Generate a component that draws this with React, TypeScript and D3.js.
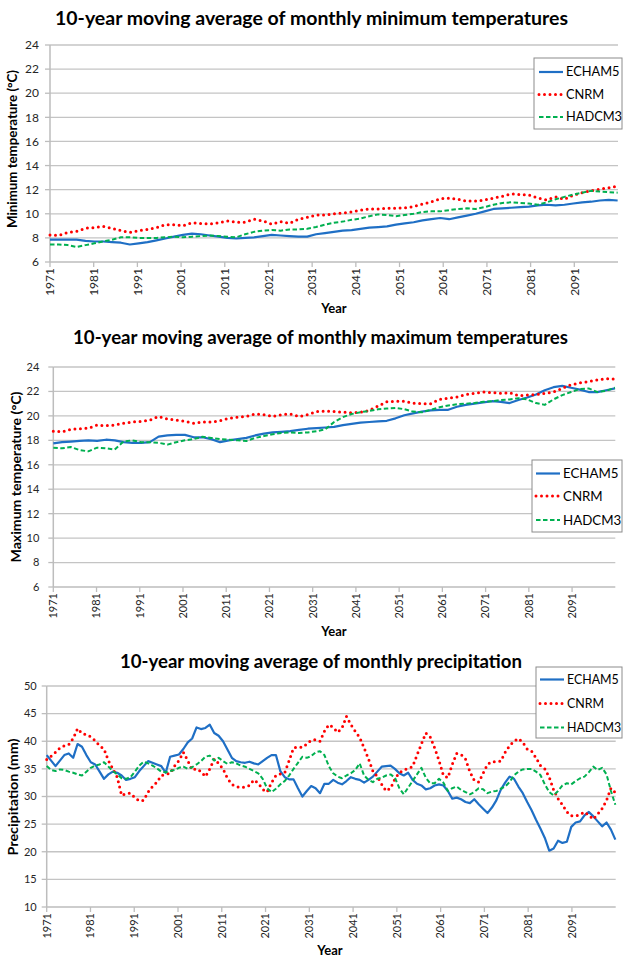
import React from 'react';
import * as d3 from 'd3';

// ---- data ----
const models = ['ECHAM5', 'CNRM', 'HADCM3'];
const decadeLabels = ['1971', '1981', '1991', '2001', '2011', '2021', '2031', '2041', '2051', '2061', '2071', '2081', '2091'];
const tempTicks = [6, 8, 10, 12, 14, 16, 18, 20, 22, 24];
const precipTicks = [10, 15, 20, 25, 30, 35, 40, 45, 50];

// minimum temperature, one value every 2 years 1971..2099
const minECHAM5 = [
  7.85, 7.85, 7.85, 7.85, 7.75, 7.7, 7.7, 7.65, 7.6, 7.45,
  7.55, 7.65, 7.8, 7.95, 8.1, 8.25, 8.35, 8.3, 8.2, 8.1,
  8.0, 7.95, 8.0, 8.05, 8.15, 8.25, 8.2, 8.15, 8.1, 8.1,
  8.3, 8.4, 8.5, 8.6, 8.65, 8.75, 8.85, 8.9, 8.95, 9.1,
  9.2, 9.3, 9.45, 9.55, 9.65, 9.55, 9.7, 9.85, 10.0, 10.2,
  10.4, 10.45, 10.5, 10.55, 10.6, 10.7, 10.75, 10.7, 10.75, 10.85,
  10.95, 11.0, 11.1, 11.15, 11.1,
];
const minCNRM = [
  8.25, 8.2, 8.45, 8.55, 8.8, 8.85, 8.95, 8.8, 8.6, 8.45,
  8.6, 8.7, 8.85, 9.1, 9.1, 9.0, 9.25, 9.2, 9.15, 9.25,
  9.4, 9.3, 9.3, 9.55, 9.4, 9.15, 9.35, 9.2, 9.55, 9.7,
  9.9, 9.9, 10.0, 10.05, 10.15, 10.3, 10.4, 10.4, 10.45, 10.45,
  10.5, 10.6, 10.8, 11.0, 11.25, 11.3, 11.2, 11.05, 11.05, 11.15,
  11.3, 11.45, 11.65, 11.6, 11.55, 11.3, 11.15, 11.4, 11.2, 11.55,
  11.75, 11.9, 12.05, 12.15, 12.3,
];
const minHADCM3 = [
  7.45, 7.45, 7.4, 7.25, 7.4, 7.55, 7.7, 7.85, 8.05, 8.05,
  8.0, 8.0, 8.0, 8.05, 8.1, 8.05, 8.1, 8.15, 8.2, 8.15,
  8.1, 8.05, 8.3, 8.5, 8.6, 8.65, 8.6, 8.7, 8.7, 8.75,
  8.9, 9.1, 9.25, 9.35, 9.5, 9.6, 9.8, 9.95, 9.9, 9.8,
  9.9, 10.0, 10.15, 10.2, 10.2, 10.3, 10.4, 10.45, 10.4, 10.55,
  10.75, 10.9, 10.95, 10.9, 10.85, 10.75, 10.95, 11.2, 11.4, 11.6,
  11.75, 11.9, 11.85, 11.8, 11.75,
];

// maximum temperature, one value every 2 years 1971..2099
const maxECHAM5 = [
  17.75, 17.85, 17.9, 17.95, 18.0, 17.95, 18.05, 18.0, 17.85, 17.8,
  17.8, 17.85, 18.3, 18.4, 18.45, 18.45, 18.25, 18.25, 18.1, 17.85,
  18.0, 18.1, 18.2, 18.4, 18.55, 18.65, 18.7, 18.75, 18.85, 18.95,
  19.0, 19.05, 19.1, 19.25, 19.35, 19.45, 19.5, 19.55, 19.6, 19.8,
  20.05, 20.2, 20.35, 20.45, 20.5, 20.5, 20.75, 20.9, 21.0, 21.1,
  21.2, 21.15, 21.05, 21.3, 21.5, 21.75, 22.1, 22.35, 22.45, 22.3,
  22.15, 21.95, 21.95, 22.1, 22.25,
];
const maxCNRM = [
  18.75, 18.7, 18.9, 18.95, 19.0, 19.25, 19.2, 19.25, 19.4, 19.5,
  19.55, 19.65, 19.95, 19.75, 19.65, 19.55, 19.4, 19.5, 19.5, 19.6,
  19.8, 19.9, 19.95, 20.15, 20.1, 19.95, 20.1, 20.15, 19.95, 20.1,
  20.35, 20.4, 20.35, 20.3, 20.25, 20.3, 20.45, 20.8, 21.15, 21.2,
  21.2, 21.05, 21.0, 21.0, 21.35, 21.45, 21.55, 21.75, 21.85, 21.95,
  21.9, 21.85, 21.9, 21.65, 21.7, 21.75, 21.85, 21.95, 22.25, 22.55,
  22.7, 22.8, 22.95, 23.05, 23.0,
];
const maxHADCM3 = [
  17.4, 17.35, 17.45, 17.2, 17.1, 17.4, 17.35, 17.25, 17.9, 18.0,
  17.85, 17.85, 17.8, 17.65, 17.85, 18.0, 18.1, 18.3, 18.2, 18.1,
  18.05, 18.0, 17.95, 18.2, 18.35, 18.5, 18.6, 18.65, 18.6, 18.65,
  18.75, 18.9, 19.5, 19.9, 20.15, 20.3, 20.4, 20.55, 20.6, 20.65,
  20.55, 20.35, 20.3, 20.5, 20.7, 20.85, 20.95, 21.0, 21.05, 21.15,
  21.2, 21.3, 21.35, 21.45, 21.35, 21.05, 20.9, 21.35, 21.7, 21.95,
  22.2, 22.25, 21.95, 22.05, 22.3,
];

// precipitation, one value per year 1971..2100
const precECHAM5 = [
  37.5, 36.5, 35.5, 36.5, 37.5, 37.8, 37.0, 39.5, 39.0, 37.5,
  36.2, 35.8, 34.5, 33.2, 34.0, 34.5, 34.3, 33.8, 33.0, 33.2,
  33.5, 34.6, 35.5, 36.4, 36.1, 35.8, 35.5, 34.3, 37.2, 37.4,
  37.6, 38.6, 39.8, 40.5, 42.5, 42.2, 42.4, 43.0, 41.5, 41.0,
  40.0, 38.5, 37.0, 36.4, 36.2, 36.1, 36.3, 36.0, 35.8, 36.4,
  37.0, 37.5, 37.5, 34.6, 33.5, 33.1, 33.1, 31.5, 30.0, 31.0,
  31.9, 31.5, 30.6, 32.3, 32.3, 33.0, 32.5, 32.2, 32.8, 33.5,
  33.2, 33.0, 32.5, 33.0, 33.6, 34.5, 35.4, 35.5, 35.6, 35.0,
  34.2, 33.8, 34.3, 33.0, 32.3, 32.0, 31.3, 31.5, 32.0, 32.2,
  32.0, 31.0, 29.6, 29.8, 29.5, 29.0, 28.8, 29.5, 28.6, 27.8,
  27.0, 28.0, 29.3, 31.2, 32.5, 33.6, 33.2, 31.8, 30.6, 29.0,
  27.5, 25.8, 24.2, 22.5, 20.2, 20.6, 22.0, 21.6, 21.8, 24.5,
  25.3, 25.5, 26.6, 27.2, 26.4, 25.5, 24.6, 25.3, 24.0, 22.2,
];
const precCNRM = [
  36.7, 37.3, 38.0, 38.8, 39.2, 39.4, 40.5, 42.3, 41.4, 41.2,
  40.8, 40.1, 39.2, 38.6, 36.5, 35.0, 33.5, 30.2, 30.5, 30.6,
  29.8, 29.2, 29.3, 30.8, 31.8, 32.6, 33.8, 34.0, 34.2, 35.5,
  36.5, 38.0, 36.5, 34.8, 35.0, 34.5, 33.6, 35.0, 36.8, 36.0,
  35.0, 33.3, 32.2, 31.8, 31.6, 31.7, 32.0, 33.0, 32.4, 31.3,
  30.8, 32.5, 33.8, 34.1, 34.3, 36.5, 38.8, 39.0, 38.9, 39.5,
  40.2, 40.3, 40.0, 41.8, 43.0, 42.5, 41.6, 42.4, 44.5, 43.0,
  41.8, 40.7, 38.8, 36.8, 34.6, 33.6, 32.2, 31.0, 31.5, 33.2,
  34.3, 34.8, 35.1, 35.4, 37.5, 39.5, 41.5, 40.8, 38.8, 36.5,
  33.8, 33.4, 35.8, 37.8, 37.6, 36.8, 34.5, 32.9, 32.6, 34.2,
  35.8, 36.3, 36.3, 36.4, 38.0, 39.2, 40.0, 40.5, 39.8, 38.6,
  38.2, 37.0, 35.6, 35.0, 33.5, 31.2, 29.6, 28.5, 27.2, 26.5,
  26.5, 26.7, 27.2, 26.6, 25.9, 26.8, 27.8, 29.3, 31.5, 30.7,
];
const precHADCM3 = [
  35.5, 34.8, 34.6, 34.9, 34.8, 34.5, 34.3, 34.0, 33.8, 34.5,
  35.2, 35.6, 35.8, 36.2, 35.4, 34.6, 34.0, 33.3, 33.2, 33.5,
  34.5, 35.6, 36.3, 36.0, 35.6, 35.1, 34.5, 34.4, 34.6, 34.8,
  35.2, 35.4, 35.0, 35.3, 35.8, 36.4, 37.2, 37.4, 36.5, 37.0,
  36.4, 35.9, 36.2, 36.0, 35.6, 35.4, 35.0, 34.6, 34.2, 33.2,
  31.5, 30.8, 31.4, 32.2, 32.8, 33.8, 35.0, 36.1, 37.2, 37.0,
  37.3, 38.0, 38.2, 37.5, 35.5, 34.2, 33.6, 33.3, 33.8, 34.2,
  34.8, 36.0, 33.8, 33.0, 32.6, 33.2, 33.4, 33.8, 34.0, 33.4,
  31.5, 30.4, 31.6, 32.8, 34.0, 35.2, 33.4, 32.4, 32.4, 33.2,
  32.5, 31.0, 31.5, 31.8, 31.2, 30.8, 30.4, 30.8, 31.5, 31.3,
  30.6, 30.9, 31.0, 31.4, 31.8, 32.6, 33.8, 34.5, 34.9, 35.0,
  35.0, 34.5, 33.9, 32.2, 30.8, 30.2, 31.0, 32.0, 32.4, 32.2,
  32.8, 33.3, 33.6, 34.4, 35.4, 34.8, 35.2, 34.0, 31.0, 28.5,
];

const FONT = 'Lato, "Open Sans", sans-serif';

const seriesStyle: Record<string, { color: string; width: number; dash?: string; cap?: string }> = {
  ECHAM5: { color: '#1f6fc5', width: 2.2 },
  CNRM: { color: '#ff0000', width: 3, dash: '0 5.5', cap: 'round' },
  HADCM3: { color: '#00b050', width: 2, dash: '4.5 2.5' },
};

type PanelProps = {
  title: string; titleX: number; titleY: number; titleW: number;
  yLabel: string; yLabelX: number; yLabelY: number; yLabelW: number;
  left: number; right: number; top: number; bottom: number;
  ticks: number[]; tickGap: number; tickSize: number;
  yearY: number; yearX: number;
  legend: { x: number; y: number; w: number; h: number; rows: number[]; lx0: number; lx1: number; tx: number; fs: number };
  series: number[][];
};

function Panel(p: PanelProps) {
  const x = d3.scaleLinear().domain([1971, 2101]).range([p.left, p.right]);
  const y = d3.scaleLinear().domain([p.ticks[0], p.ticks[p.ticks.length - 1]]).range([p.bottom, p.top]);

  return (
    <g>
      <text x={p.titleX} y={p.titleY} textAnchor="middle" fontFamily={FONT} fontWeight="bold" fontSize={18}
        textLength={p.titleW} lengthAdjust="spacingAndGlyphs" fill="#000">{p.title}</text>

      {/* gridlines */}
      {p.ticks.slice(1).map(t => (
        <line key={t} x1={p.left} x2={p.right} y1={y(t)} y2={y(t)} stroke="#c4c4c4" strokeWidth={1.3} />
      ))}
      {/* axes */}
      <line x1={p.left} x2={p.left} y1={p.top} y2={p.bottom} stroke="#bdbdbd" strokeWidth={1.5} />
      <line x1={p.left} x2={p.right} y1={p.bottom} y2={p.bottom} stroke="#bdbdbd" strokeWidth={1.5} />
      {p.ticks.map(t => (
        <g key={'yt' + t}>
          <line x1={p.left - 5} x2={p.left} y1={y(t)} y2={y(t)} stroke="#bdbdbd" strokeWidth={1.3} />
          <text x={p.left - p.tickGap} y={y(t)} dy="0.35em" textAnchor="end" fontFamily={FONT}
            fontSize={p.tickSize} fill="#262626">{t}</text>
        </g>
      ))}
      {decadeLabels.map(l => {
        const xx = x(+l);
        return (
          <g key={l}>
            <line x1={xx} x2={xx} y1={p.bottom} y2={p.bottom + 5} stroke="#bdbdbd" strokeWidth={1.3} />
            <text transform={`translate(${xx},${p.bottom + 6}) rotate(-90)`} dy="0.35em" textAnchor="end"
              fontFamily={FONT} fontSize={p.tickSize} fill="#262626">{l}</text>
          </g>
        );
      })}

      <text transform={`translate(${p.yLabelX},${p.yLabelY}) rotate(-90)`} textAnchor="middle" fontFamily={FONT}
        fontWeight="bold" fontSize={13} textLength={p.yLabelW} lengthAdjust="spacingAndGlyphs" fill="#000">{p.yLabel}</text>
      <text x={p.yearX} y={p.yearY} textAnchor="middle" fontFamily={FONT} fontWeight="bold" fontSize={13} fill="#000">Year</text>

      {/* series */}
      {p.series.map((vals, k) => {
        const st = seriesStyle[models[k]];
        const idx = d3.scaleLinear().domain([0, vals.length - 1]).range([x(1971), x(2100.92)]);
        const line = d3.line<number>().x((_, i) => idx(i)).y(d => y(d));
        return (
          <path key={models[k]} d={line(vals) || ''} fill="none" stroke={st.color} strokeWidth={st.width}
            strokeDasharray={st.dash} strokeLinecap={(st.cap as any) || 'butt'} strokeLinejoin="round" />
        );
      })}

      {/* legend */}
      <rect x={p.legend.x} y={p.legend.y} width={p.legend.w} height={p.legend.h} fill="#fff" stroke="#8c8c8c" strokeWidth={1} />
      {models.map((m, k) => {
        const st = seriesStyle[m];
        const ly = p.legend.rows[k];
        return (
          <g key={'lg' + m}>
            <line x1={p.legend.lx0} x2={p.legend.lx1} y1={ly} y2={ly} stroke={st.color} strokeWidth={st.width}
              strokeDasharray={st.dash} strokeLinecap={(st.cap as any) || 'butt'} />
            <text x={p.legend.tx} y={ly} dy="0.35em" fontFamily={FONT} fontSize={p.legend.fs} fill="#000">{m}</text>
          </g>
        );
      })}
    </g>
  );
}

export default function App() {
  return (
    <svg width={623} height={957} style={{ position: 'absolute', left: 0, top: 0, background: '#fff' }}>
      <rect width={623} height={957} fill="#fff" />
      <Panel
        title="10-year moving average of monthly minimum temperatures" titleX={311.5} titleY={25} titleW={513}
        yLabel="Minimum temperature (°C)" yLabelX={17} yLabelY={149} yLabelW={158}
        left={50} right={618} top={45} bottom={262} ticks={tempTicks} tickGap={11} tickSize={12}
        yearX={334} yearY={313}
        legend={{ x: 534, y: 58, w: 88, h: 71, rows: [72, 94.5, 117], lx0: 539, lx1: 563, tx: 566, fs: 12.8 }}
        series={[minECHAM5, minCNRM, minHADCM3]}
      />
      <Panel
        title="10-year moving average of monthly maximum temperatures" titleX={320.5} titleY={344} titleW={495}
        yLabel="Maximum temperature (°C)" yLabelX={21} yLabelY={477} yLabelW={171}
        left={53.3} right={615.3} top={367} bottom={587} ticks={tempTicks} tickGap={14} tickSize={11}
        yearX={334} yearY={636}
        legend={{ x: 532, y: 460, w: 90, h: 72, rows: [473.5, 496, 520], lx0: 536, lx1: 560, tx: 563, fs: 13.3 }}
        series={[maxECHAM5, maxCNRM, maxHADCM3]}
      />
      <Panel
        title="10-year moving average of monthly precipitation" titleX={321} titleY={668} titleW={402}
        yLabel="Precipitation (mm)" yLabelX={17.5} yLabelY={797} yLabelW={117}
        left={46.7} right={615.7} top={686} bottom={907} ticks={precipTicks} tickGap={10} tickSize={11}
        yearX={330} yearY={955}
        legend={{ x: 536, y: 667, w: 86, h: 71, rows: [679.5, 703.5, 727.5], lx0: 540, lx1: 564, tx: 567, fs: 12.4 }}
        series={[precECHAM5, precCNRM, precHADCM3]}
      />
    </svg>
  );
}
